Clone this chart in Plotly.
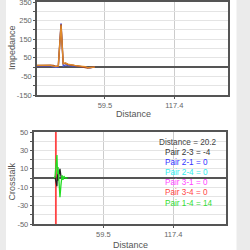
import plotly.graph_objects as go

# ---- data ----
dist_top = [2.7, 5, 8, 11, 14, 16.5, 18.5, 20.5, 22.8, 24.6, 26.5, 28.5, 31, 34, 37, 40, 43, 45, 47, 49, 51]
imp_orange = [9, 10, 8, 9, 9, 7, 3, 6, 225, 20, 23, 16, 11, 9, 7, 5, 2, -3, -2, 0, 0]
imp_brown = [8, 9, 9, 8, 10, 8, 4, 5, 230, 18, 20, 14, 10, 8, 6, 4, -2, -5, -3, -1, 0]
imp_blue = [5, 6, 4, 6, 5, 3, -2, 1, 236, 5, 12, 8, 6, 5, 4, 3, 0, -4, -4, -2, 0]

dist_bot = [18.6, 19.5, 20.3, 21.1, 21.6, 22.0, 22.8, 23.6, 24.4, 25.3, 26.1, 26.9, 27.7, 30]
xt_pair14 = [0, 1, 14, 25, 4, 12, -4, -21, -8, 3, -2, 2, 0, 0]
xt_pair23 = [0, 1, -4, -9, 9, -3, 4, 10, 2, -1, 0, 0, 0, 0]

cursor_distance = 20.2
readout_labels = ["Distance = 20.2", "Pair 2-3 = -4", "Pair 2-1 = 0", "Pair 2-4 = 0",
                  "Pair 3-1 = 0", "Pair 3-4 = 0", "Pair 1-4 = 14"]
readout_colors = ["#444444", "#333333", "#3333ff", "#33eeee", "#ff44ff", "#ff4444", "#33dd33"]

x_ticks = [59.5, 117.4]
top_grid = [-150, -100, -50, 0, 50, 100, 150, 200, 250, 300, 350]
top_labels = ["-150", "", "-50", "", "50", "", "150", "", "250", "", "350"]
bot_grid = [-50, -40, -30, -20, -10, 0, 10, 20, 30, 40, 50]
bot_labels = ["-50", "", "-30", "", "-10", "", "10", "", "30", "", "50"]

FONT = "Liberation Sans, Arial, sans-serif"
W = 250.0

fig = go.Figure()
fig.add_trace(go.Scatter(x=dist_top, y=imp_blue, mode="lines", line=dict(color="#4455dd", width=1.2), xaxis="x", yaxis="y"))
fig.add_trace(go.Scatter(x=dist_top, y=imp_brown, mode="lines", line=dict(color="#a0421e", width=1.5), xaxis="x", yaxis="y"))
fig.add_trace(go.Scatter(x=dist_top, y=imp_orange, mode="lines", line=dict(color="#e08a2a", width=1.3), xaxis="x", yaxis="y"))

fig.add_trace(go.Scatter(x=[cursor_distance, cursor_distance], y=[-50, 50], mode="lines",
                         line=dict(color="#ff4444", width=1.8), xaxis="x2", yaxis="y2"))
fig.add_trace(go.Scatter(x=dist_bot, y=xt_pair23, mode="lines", line=dict(color="#222222", width=1.3), xaxis="x2", yaxis="y2"))
fig.add_trace(go.Scatter(x=dist_bot, y=xt_pair14, mode="lines", line=dict(color="#22dd22", width=1.3), xaxis="x2", yaxis="y2"))

axcommon = dict(showline=True, mirror=True, linecolor="#555555", linewidth=1.5,
                automargin=False, tickfont=dict(size=7.5, color="#666666", family=FONT),
                ticks="outside", tickcolor="#555555", ticklen=2, ticklabeloverflow="allow")

fig.update_layout(
    width=250, height=250, margin=dict(l=0, r=0, t=0, b=0),
    paper_bgcolor="#ebebeb", plot_bgcolor="white", showlegend=False,
    font=dict(family=FONT),
    xaxis=dict(domain=[37 / W, 228 / W], range=[2.7, 162.3], tickmode="array", tickvals=x_ticks,
               ticktext=[str(v) for v in x_ticks],
               showgrid=True, gridcolor="#cccccc", gridwidth=1, zeroline=False, anchor="y", **axcommon),
    yaxis=dict(domain=[1 - 95 / W, 1 - 2 / W], range=[-150, 350], tickmode="array", tickvals=top_grid,
               ticktext=top_labels,
               showgrid=True, gridcolor="#e4e4e4", zeroline=True, zerolinecolor="#555555", zerolinewidth=1.5,
               anchor="x", **axcommon),
    xaxis2=dict(domain=[33.5 / W, 226 / W], range=[1.7, 161], tickmode="array", tickvals=x_ticks,
                ticktext=[str(v) for v in x_ticks],
                showgrid=True, gridcolor="#cccccc", gridwidth=1, zeroline=False, anchor="y2", **axcommon),
    yaxis2=dict(domain=[1 - 224 / W, 1 - 132 / W], range=[-50, 50], tickmode="array", tickvals=bot_grid,
                ticktext=bot_labels,
                showgrid=True, gridcolor="#e4e4e4", zeroline=True, zerolinecolor="#555555", zerolinewidth=1.5,
                anchor="x2", **axcommon),
)

shapes = [dict(type="rect", xref="paper", yref="paper", x0=6 / W, x1=236.5 / W, y0=0, y1=1,
               fillcolor="white", line=dict(width=0), layer="below")]
fig.update_layout(shapes=shapes)

ann = []
def txt(x, y, s, size=9, color="#555555", angle=0, xanchor="center"):
    ann.append(dict(x=x / W, y=1 - y / W, xref="paper", yref="paper", text=s, showarrow=False,
                    font=dict(size=size, color=color, family=FONT), textangle=angle,
                    xanchor=xanchor, yanchor="middle"))

txt(133, 114.5, "Distance")
txt(130, 244.5, "Distance")
txt(12, 48, "Impedance", angle=-90)
txt(11.5, 182, "Crosstalk", angle=-90)

ys = [142.3, 152.5, 162.6, 172.6, 182.7, 192.8, 203]
xs = [157, 162.7, 162.7, 162.7, 162.7, 162.7, 162.7]
for s, c, x, y in zip(readout_labels, readout_colors, xs, ys):
    txt(x, y, s, size=8.2, color=c, xanchor="left")
fig.update_layout(annotations=ann)

fig.write_html("out.html")
